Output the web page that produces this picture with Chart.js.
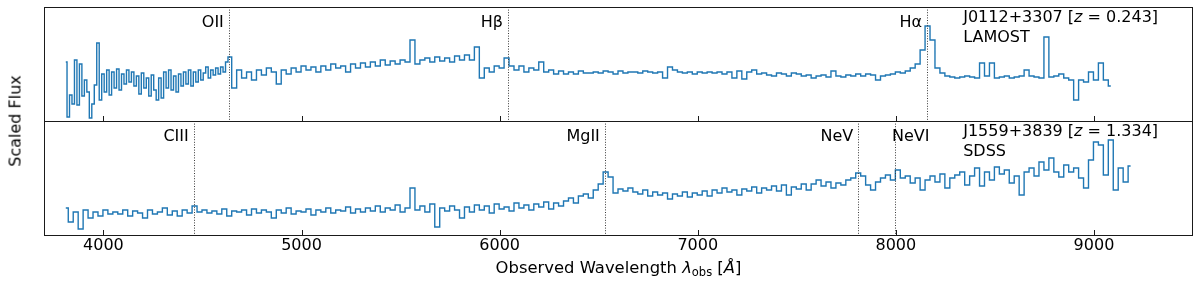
<!DOCTYPE html>
<html>
<head>
<meta charset="utf-8">
<script src="https://cdn.jsdelivr.net/npm/chart.js@4/dist/chart.umd.min.js"></script>
<style>
  html, body { margin: 0; padding: 0; background: #fff; }
  #wrap { position: relative; width: 1200px; height: 281px; overflow: hidden; font-family: "DejaVu Sans", sans-serif; color: #000; }
  canvas { position: absolute; left: 0; }
  #cTop { top: 0; }
  #cBot { top: 120px; }
  #xtitle { position: absolute; left: 44px; width: 1149px; top: 258px; text-align: center; font-size: 16.4px; line-height: 19px; white-space: nowrap; }
  #xtitle sub { font-size: 11.5px; vertical-align: -3px; line-height: 0; }
  #ytitle { position: absolute; left: 15px; top: 121px; font-size: 16px; line-height: 19px; white-space: nowrap; transform: translate(-50%, -50%) rotate(-90deg); }
</style>
</head>
<body>
<div id="wrap">
  <canvas id="cTop" width="1200" height="122"></canvas>
  <canvas id="cBot" width="1200" height="161"></canvas>
  <div id="xtitle">Observed Wavelength <i>λ</i><sub>obs</sub> [<i>Å</i>]</div>
  <div id="ytitle">Scaled Flux</div>
</div>
<script>
// ---------------- DATA ----------------
// observed wavelength of each spectral bin [Å]
const wavelengths = [
  3810,3835,3860,3885,3910,3935,3960,3985,
  4010,4035,4060,4085,4110,4135,4160,4185,
  4210,4235,4260,4285,4310,4335,4360,4385,
  4410,4435,4460,4485,4510,4535,4560,4585,
  4610,4635,4660,4685,4710,4735,4760,4785,
  4810,4835,4860,4885,4910,4935,4960,4985,
  5010,5035,5060,5085,5110,5135,5160,5185,
  5210,5235,5260,5285,5310,5335,5360,5385,
  5410,5435,5460,5485,5510,5535,5560,5585,
  5610,5635,5660,5685,5710,5735,5760,5785,
  5810,5835,5860,5885,5910,5935,5960,5985,
  6010,6035,6060,6085,6110,6135,6160,6185,
  6210,6235,6260,6285,6310,6335,6360,6385,
  6410,6435,6460,6485,6510,6535,6560,6585,
  6610,6635,6660,6685,6710,6735,6760,6785,
  6810,6835,6860,6885,6910,6935,6960,6985,
  7010,7035,7060,7085,7110,7135,7160,7185,
  7210,7235,7260,7285,7310,7335,7360,7385,
  7410,7435,7460,7485,7510,7535,7560,7585,
  7610,7635,7660,7685,7710,7735,7760,7785,
  7810,7835,7860,7885,7910,7935,7960,7985,
  8010,8035,8060,8085,8110,8135,8160,8185,
  8210,8235,8260,8285,8310,8335,8360,8385,
  8410,8435,8460,8485,8510,8535,8560,8585,
  8610,8635,8660,8685,8710,8735,8760,8785,
  8810,8835,8860,8885,8910,8935,8960,8985,
  9010,9035,9060,9085,9110,9135,9160,9185
];

// finer bins of the LAMOST spectrum on its noisy blue end [Å]
const lamostBlueWave = [
  3810,3822.5,3835,3847.5,3860,3872.5,3885,3897.5,
  3910,3922.5,3935,3947.5,3960,3972.5,3985,3997.5,
  4010,4022.5,4035,4047.5,4060,4072.5,4085,4097.5,
  4110,4122.5,4135,4147.5,4160,4172.5,4185,4197.5,
  4210,4222.5,4235,4247.5,4260,4272.5,4285,4297.5,
  4310,4322.5,4335,4347.5,4360,4372.5,4385,4397.5,
  4410,4422.5,4435,4447.5,4460,4472.5,4485,4497.5,
  4510,4522.5,4535,4547.5,4560,4572.5,4585,4597.5,
  4610,4622.5
];
const lamostBlueFlux = [
  59,4,26,17,61,16,57,25,
  41,29,3,17,36,78,21,47,
  29,51,26,49,33,52,31,47,
  37,51,39,49,35,45,27,48,
  33,43,25,46,31,21,43,23,
  49,33,51,31,45,29,47,35,
  49,37,51,35,49,39,51,41,
  48,54,43,51,46,53,47,54,
  49,59
];

// J0112+3307 (LAMOST) scaled flux from 4635 Å on (wavelengths[33] onward)
const lamostRedStart = 33;
const fluxLAMOST = [
  64,33,51,43,49,41,51,
  46,53,49,37,51,47,53,49,
  55,51,54,49,55,51,57,53,
  55,49,57,53,58,54,59,55,
  61,56,60,57,61,59,81,57,
  61,63,59,64,60,63,59,65,
  61,66,61,74,43,53,49,55,
  53,63,55,51,55,49,53,51,
  59,49,51,47,50,47,49,47,
  50,48,48,49,48,50,49,47,50,
  48,49,49,48,50,49,48,49,
  43,54,51,49,48,49,47,49,
  48,49,48,49,47,49,43,50,
  42,49,51,47,48,46,45,48,
  47,45,48,47,45,46,43,45,
  46,44,50,45,44,46,45,47,
  45,47,46,41,45,46,47,49,
  48,50,53,57,71,95,81,53,
  48,45,44,43,44,45,44,43,
  58,45,58,43,44,45,43,44,
  45,51,45,44,43,84,44,45,
  47,43,41,21,41,39,49,41,
  58,41,35
];

// J1559+3839 (SDSS) scaled flux, one value per bin of `wavelengths`
const fluxSDSS = [
  27,13,23,6,25,17,23,19,
  25,21,23,21,25,19,24,22,
  17,25,21,23,27,20,24,19,
  25,22,29,23,25,22,24,21,
  26,19,24,23,25,20,26,22,
  25,23,17,25,22,27,21,24,
  23,26,20,25,23,27,22,25,
  24,28,22,26,23,27,24,29,
  23,27,25,30,23,27,47,25,
  29,23,31,8,27,24,29,25,
  17,28,23,30,25,29,22,31,
  26,28,24,32,27,30,25,31,
  28,33,26,32,29,34,37,32,
  39,41,37,45,51,63,58,42,
  46,44,47,43,41,45,39,43,
  40,42,36,41,39,43,38,42,
  40,44,39,45,42,47,43,45,
  40,46,44,48,42,47,45,49,
  44,50,40,48,46,51,45,51,
  55,49,53,47,52,50,55,57,
  62,59,50,45,53,57,60,55,
  65,57,59,52,57,45,55,59,
  53,61,47,57,60,63,50,59,
  67,49,63,55,68,61,65,52,
  59,40,63,67,59,73,65,77,
  63,58,70,63,67,57,47,75,
  93,90,60,95,45,67,53,69
];

const xTicks = [4000, 5000, 6000, 7000, 8000, 9000];

// emission lines (observed wavelength) and their names
const lamostLines = [4633, 6042, 8158];
const lamostLineNames = ['OII', 'Hβ', 'Hα'];
const sdssLines = [4456, 6531, 7810, 7996];
const sdssLineNames = ['CIII', 'MgII', 'NeV', 'NeVI'];

const lamostInfo = { name: 'J0112+3307', z: '0.243', survey: 'LAMOST' };
const sdssInfo = { name: 'J1559+3839', z: '1.334', survey: 'SDSS' };

// ---------------- STYLE / DRAWING ----------------
const FONT = '"DejaVu Sans", sans-serif';
const LINE_COLOR = '#1f77b4';
const FRAME_COLOR = '#1a1a1a';

const panelPlugin = {
  id: 'panel',
  afterDatasetsDraw(chart, args, opts) {
    const ctx = chart.ctx;
    const a = chart.chartArea;
    const x = chart.scales.x;
    ctx.save();
    // dotted emission-line markers
    ctx.strokeStyle = '#3a3a3a';
    ctx.lineWidth = 1;
    ctx.setLineDash([1, 1.6]);
    opts.lines.forEach((w) => {
      const px = Math.round(x.getPixelForValue(w)) + 0.5;
      ctx.beginPath();
      ctx.moveTo(px, a.top);
      ctx.lineTo(px, a.bottom);
      ctx.stroke();
    });
    ctx.setLineDash([]);
    // line labels
    ctx.fillStyle = '#000';
    ctx.font = '16px ' + FONT;
    ctx.textBaseline = 'alphabetic';
    opts.lines.forEach((w, k) => {
      const px = x.getPixelForValue(w);
      const st = (opts.labelStyle && opts.labelStyle[k]) || { align: 'right', dx: -5 };
      ctx.textAlign = st.align;
      ctx.fillText(opts.names[k], px + st.dx, a.top + 20);
    });
    // object annotation
    ctx.textAlign = 'left';
    let tx = a.left + 0.8 * (a.right - a.left);
    const by = a.top + 15;
    const parts = [
      [opts.info.name + ' [', 'normal'],
      ['z', 'italic'],
      [' = ' + opts.info.z + ']', 'normal']
    ];
    parts.forEach(([s, style]) => {
      ctx.font = (style === 'italic' ? 'italic ' : '') + '16px ' + FONT;
      ctx.fillText(s, tx, by);
      tx += ctx.measureText(s).width;
    });
    ctx.font = '16px ' + FONT;
    ctx.fillText(opts.info.survey, a.left + 0.8 * (a.right - a.left), a.top + 35);
    // frame
    ctx.strokeStyle = FRAME_COLOR;
    ctx.lineWidth = 1;
    ctx.strokeRect(Math.round(a.left) + 0.5, Math.round(a.top) + 0.5,
                   Math.round(a.right - a.left) - 1, Math.round(a.bottom - a.top));
    // inward ticks on the bottom edge
    xTicks.forEach((t) => {
      const px = Math.round(x.getPixelForValue(t)) + 0.5;
      ctx.beginPath();
      ctx.moveTo(px, a.bottom);
      ctx.lineTo(px, a.bottom - 5);
      ctx.stroke();
    });
    ctx.restore();
  }
};

function makeDataset(points) {
  return {
    data: points,
    borderColor: LINE_COLOR,
    borderWidth: 1.4,
    pointRadius: 0,
    fill: false,
    stepped: 'middle',
    tension: 0
  };
}

const lamostPoints = lamostBlueWave.map((w, i) => ({ x: w, y: lamostBlueFlux[i] }))
  .concat(fluxLAMOST.map((f, k) => ({ x: wavelengths[lamostRedStart + k], y: f })));
const sdssPoints = fluxSDSS.map((f, i) => ({ x: wavelengths[i], y: f }));

function makeChart(id, points, lines, names, info, labelStyle, bottom) {
  return new Chart(document.getElementById(id), {
    type: 'line',
    data: { datasets: [makeDataset(points)] },
    plugins: [panelPlugin],
    options: {
      responsive: false,
      animation: false,
      devicePixelRatio: 1,
      parsing: true,
      layout: { padding: bottom ? { left: 44, right: 7, top: 1, bottom: 0 } : { left: 44, right: 7, top: 7, bottom: 1 } },
      plugins: {
        legend: { display: false },
        tooltip: { enabled: false },
        panel: { lines: lines, names: names, info: info, labelStyle: labelStyle }
      },
      scales: {
        x: {
          type: 'linear',
          min: 3700,
          max: 9500,
          display: bottom,
          afterBuildTicks: (s) => { s.ticks = xTicks.map((v) => ({ value: v })); },
          afterFit: (s) => { if (bottom) s.height = 46; },
          grid: { display: false, drawTicks: false },
          border: { display: false },
          ticks: {
            font: { family: FONT, size: 16 },
            color: '#000',
            padding: 1,
            maxRotation: 0,
            autoSkip: false,
            callback: (v) => String(v)
          }
        },
        y: { display: false, min: 0, max: 114 }
      }
    }
  });
}

makeChart('cTop', lamostPoints, lamostLines, lamostLineNames, lamostInfo, null, false);
makeChart('cBot', sdssPoints, sdssLines, sdssLineNames, sdssInfo,
  [{ align: 'right', dx: -5 }, { align: 'right', dx: -5 }, { align: 'right', dx: -5 }, { align: 'left', dx: -3 }], true);
</script>
</body>
</html>
